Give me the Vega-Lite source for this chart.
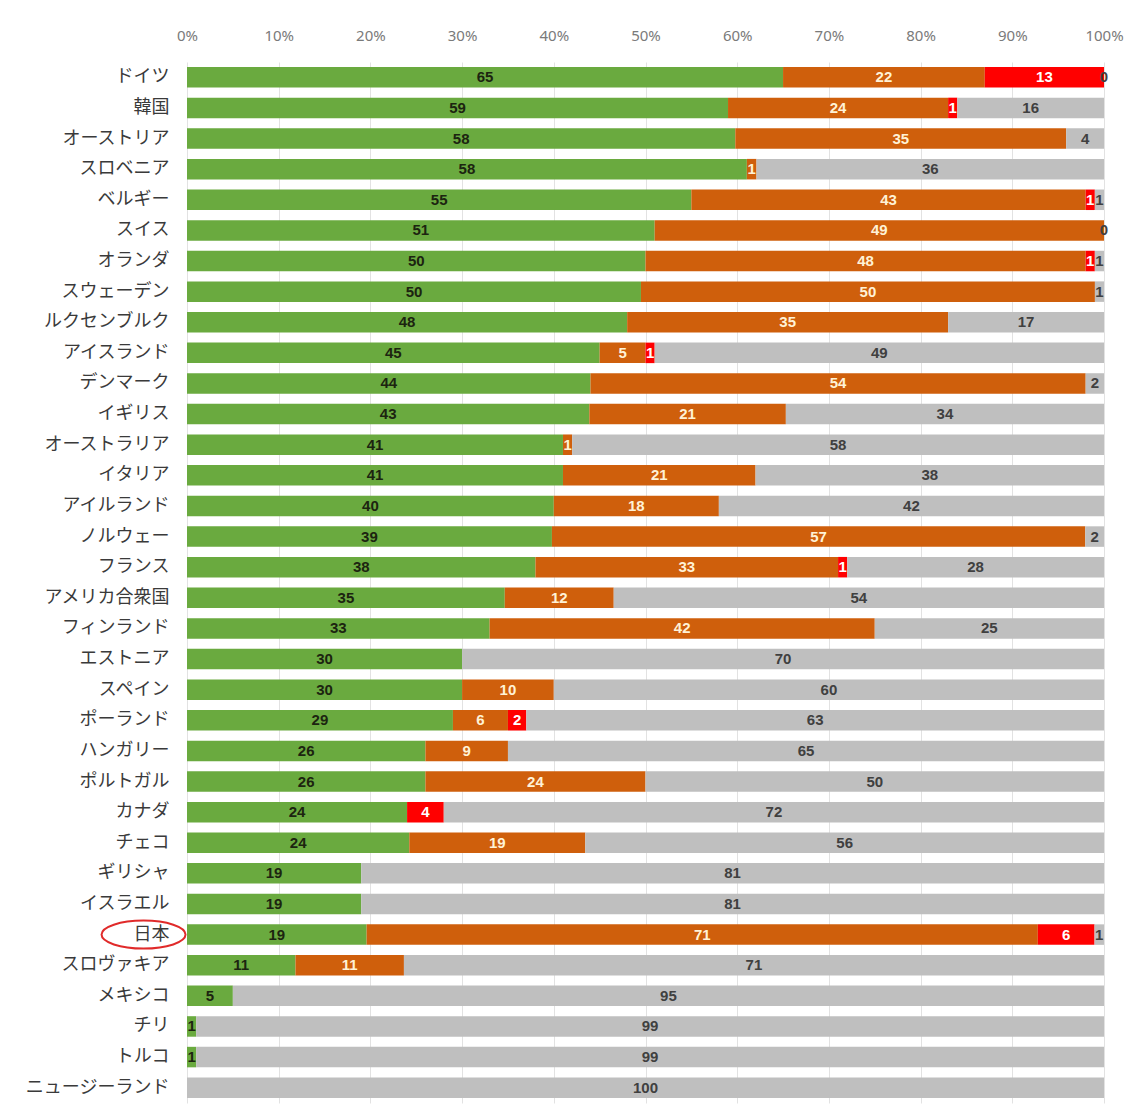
{
  "$schema": "https://vega.github.io/schema/vega-lite/v6.json",
  "width": 917,
  "height": 1041,
  "autosize": {"type": "none"},
  "padding": {"left": 187, "top": 62, "right": 20, "bottom": 3},
  "background": "white",
  "config": {"view": {"stroke": null}},
  "datasets": {
    "main": [
      {"c": "ドイツ", "k": "A", "v": 65}, {"c": "ドイツ", "k": "B", "v": 22}, {"c": "ドイツ", "k": "C", "v": 13}, {"c": "ドイツ", "k": "D", "v": 0},
      {"c": "韓国", "k": "A", "v": 59}, {"c": "韓国", "k": "B", "v": 24}, {"c": "韓国", "k": "C", "v": 1}, {"c": "韓国", "k": "D", "v": 16},
      {"c": "オーストリア", "k": "A", "v": 58}, {"c": "オーストリア", "k": "B", "v": 35}, {"c": "オーストリア", "k": "D", "v": 4},
      {"c": "スロベニア", "k": "A", "v": 58}, {"c": "スロベニア", "k": "B", "v": 1}, {"c": "スロベニア", "k": "D", "v": 36},
      {"c": "ベルギー", "k": "A", "v": 55}, {"c": "ベルギー", "k": "B", "v": 43}, {"c": "ベルギー", "k": "C", "v": 1}, {"c": "ベルギー", "k": "D", "v": 1},
      {"c": "スイス", "k": "A", "v": 51}, {"c": "スイス", "k": "B", "v": 49}, {"c": "スイス", "k": "D", "v": 0},
      {"c": "オランダ", "k": "A", "v": 50}, {"c": "オランダ", "k": "B", "v": 48}, {"c": "オランダ", "k": "C", "v": 1}, {"c": "オランダ", "k": "D", "v": 1},
      {"c": "スウェーデン", "k": "A", "v": 50}, {"c": "スウェーデン", "k": "B", "v": 50}, {"c": "スウェーデン", "k": "D", "v": 1},
      {"c": "ルクセンブルク", "k": "A", "v": 48}, {"c": "ルクセンブルク", "k": "B", "v": 35}, {"c": "ルクセンブルク", "k": "D", "v": 17},
      {"c": "アイスランド", "k": "A", "v": 45}, {"c": "アイスランド", "k": "B", "v": 5}, {"c": "アイスランド", "k": "C", "v": 1}, {"c": "アイスランド", "k": "D", "v": 49},
      {"c": "デンマーク", "k": "A", "v": 44}, {"c": "デンマーク", "k": "B", "v": 54}, {"c": "デンマーク", "k": "D", "v": 2},
      {"c": "イギリス", "k": "A", "v": 43}, {"c": "イギリス", "k": "B", "v": 21}, {"c": "イギリス", "k": "D", "v": 34},
      {"c": "オーストラリア", "k": "A", "v": 41}, {"c": "オーストラリア", "k": "B", "v": 1}, {"c": "オーストラリア", "k": "D", "v": 58},
      {"c": "イタリア", "k": "A", "v": 41}, {"c": "イタリア", "k": "B", "v": 21}, {"c": "イタリア", "k": "D", "v": 38},
      {"c": "アイルランド", "k": "A", "v": 40}, {"c": "アイルランド", "k": "B", "v": 18}, {"c": "アイルランド", "k": "D", "v": 42},
      {"c": "ノルウェー", "k": "A", "v": 39}, {"c": "ノルウェー", "k": "B", "v": 57}, {"c": "ノルウェー", "k": "D", "v": 2},
      {"c": "フランス", "k": "A", "v": 38}, {"c": "フランス", "k": "B", "v": 33}, {"c": "フランス", "k": "C", "v": 1}, {"c": "フランス", "k": "D", "v": 28},
      {"c": "アメリカ合衆国", "k": "A", "v": 35}, {"c": "アメリカ合衆国", "k": "B", "v": 12}, {"c": "アメリカ合衆国", "k": "D", "v": 54},
      {"c": "フィンランド", "k": "A", "v": 33}, {"c": "フィンランド", "k": "B", "v": 42}, {"c": "フィンランド", "k": "D", "v": 25},
      {"c": "エストニア", "k": "A", "v": 30}, {"c": "エストニア", "k": "D", "v": 70},
      {"c": "スペイン", "k": "A", "v": 30}, {"c": "スペイン", "k": "B", "v": 10}, {"c": "スペイン", "k": "D", "v": 60},
      {"c": "ポーランド", "k": "A", "v": 29}, {"c": "ポーランド", "k": "B", "v": 6}, {"c": "ポーランド", "k": "C", "v": 2}, {"c": "ポーランド", "k": "D", "v": 63},
      {"c": "ハンガリー", "k": "A", "v": 26}, {"c": "ハンガリー", "k": "B", "v": 9}, {"c": "ハンガリー", "k": "D", "v": 65},
      {"c": "ポルトガル", "k": "A", "v": 26}, {"c": "ポルトガル", "k": "B", "v": 24}, {"c": "ポルトガル", "k": "D", "v": 50},
      {"c": "カナダ", "k": "A", "v": 24}, {"c": "カナダ", "k": "C", "v": 4}, {"c": "カナダ", "k": "D", "v": 72},
      {"c": "チェコ", "k": "A", "v": 24}, {"c": "チェコ", "k": "B", "v": 19}, {"c": "チェコ", "k": "D", "v": 56},
      {"c": "ギリシャ", "k": "A", "v": 19}, {"c": "ギリシャ", "k": "D", "v": 81},
      {"c": "イスラエル", "k": "A", "v": 19}, {"c": "イスラエル", "k": "D", "v": 81},
      {"c": "日本", "k": "A", "v": 19}, {"c": "日本", "k": "B", "v": 71}, {"c": "日本", "k": "C", "v": 6}, {"c": "日本", "k": "D", "v": 1},
      {"c": "スロヴァキア", "k": "A", "v": 11}, {"c": "スロヴァキア", "k": "B", "v": 11}, {"c": "スロヴァキア", "k": "D", "v": 71},
      {"c": "メキシコ", "k": "A", "v": 5}, {"c": "メキシコ", "k": "D", "v": 95},
      {"c": "チリ", "k": "A", "v": 1}, {"c": "チリ", "k": "D", "v": 99},
      {"c": "トルコ", "k": "A", "v": 1}, {"c": "トルコ", "k": "D", "v": 99},
      {"c": "ニュージーランド", "k": "D", "v": 100}
    ],
    "mark": [{"c": "日本", "x": -0.0474}]
  },
  "layer": [
    {
      "data": {"name": "main"},
      "transform": [
        {"stack": "v", "groupby": ["c"], "sort": [{"field": "k", "order": "ascending"}], "offset": "normalize", "as": ["x0", "x1"]}
      ],
      "mark": {"type": "bar"},
      "encoding": {
        "y": {"field": "c", "type": "nominal", "sort": null,
          "scale": {"paddingInner": 0.33, "paddingOuter": 0.165},
          "axis": {"title": null, "domain": false, "ticks": false, "labelPadding": 18, "labelFontSize": 18, "labelFont": "Noto Sans CJK JP", "labelColor": "#3a3a3a", "labelLimit": 300}},
        "x": {"field": "x0", "type": "quantitative", "scale": {"domain": [0, 1], "nice": false},
          "axis": {"orient": "top", "title": null, "format": ".0%", "values": [0, 0.1, 0.2, 0.3, 0.4, 0.5, 0.6, 0.7, 0.8, 0.9, 1],
            "grid": true, "gridColor": "#e2e2e2", "domain": false, "ticks": false, "labelPadding": 19,
            "labelFontSize": 15, "labelFont": "Noto Sans", "labelColor": "#7a7a7a", "labelFlush": false}},
        "x2": {"field": "x1"},
        "color": {"field": "k", "type": "nominal", "legend": null,
          "scale": {"domain": ["A", "B", "C", "D"], "range": ["#6aaa3f", "#cf5f0c", "#ff0000", "#bfbfbf"]}}
      }
    },
    {
      "data": {"name": "main"},
      "transform": [
        {"stack": "v", "groupby": ["c"], "sort": [{"field": "k", "order": "ascending"}], "offset": "normalize", "as": ["x0", "x1"]},
        {"calculate": "(datum.x0 + datum.x1) / 2", "as": "xm"}
      ],
      "mark": {"type": "text", "align": "center", "baseline": "middle", "font": "Liberation Sans", "fontWeight": "bold", "fontSize": 15},
      "encoding": {
        "y": {"field": "c", "type": "nominal", "sort": null},
        "x": {"field": "xm", "type": "quantitative"},
        "text": {"field": "v", "type": "quantitative"},
        "color": {"field": "k", "type": "nominal", "legend": null,
          "scale": {"domain": ["A", "B", "C", "D"], "range": ["#1c2410", "#fff2d6", "#ffffff", "#404040"]}}
      }
    },
    {
      "data": {"name": "mark"},
      "mark": {"type": "point", "filled": false, "stroke": "#e02a2a", "strokeWidth": 2, "opacity": 1,
        "shape": "M -1 0 A 1 0.333 0 1 0 1 0 A 1 0.333 0 1 0 -1 0 Z", "size": 7056},
      "encoding": {
        "y": {"field": "c", "type": "nominal", "sort": null},
        "x": {"field": "x", "type": "quantitative"}
      }
    }
  ],
  "resolve": {"scale": {"color": "independent"}}
}
